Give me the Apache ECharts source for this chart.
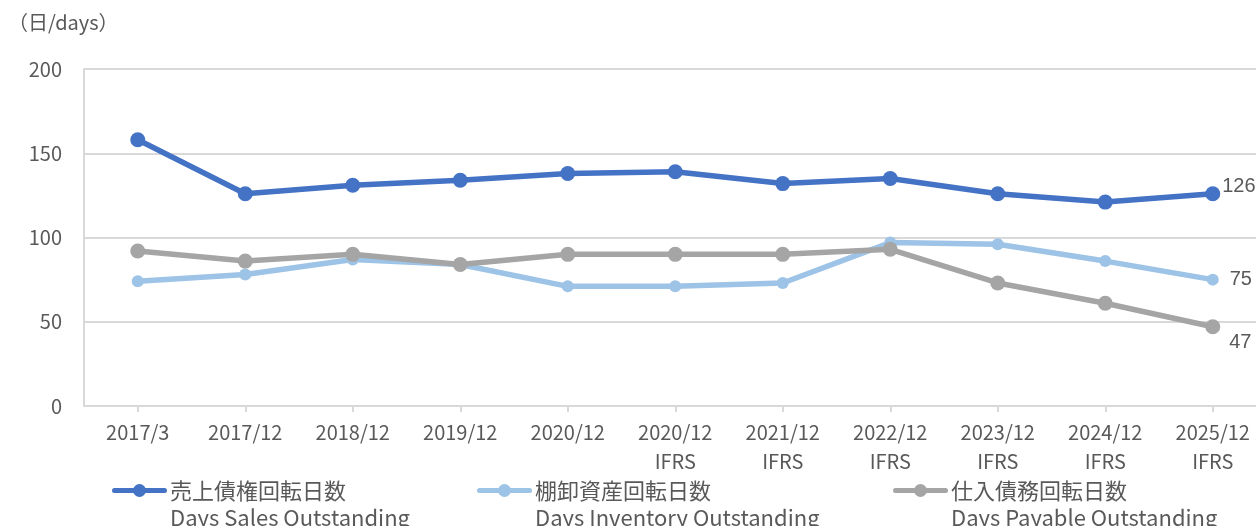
<!DOCTYPE html>
<html>
<head>
<meta charset="utf-8">
<script src="https://cdn.jsdelivr.net/npm/echarts@6/dist/echarts.min.js"></script>
<style>
html,body{margin:0;padding:0;background:#fff;}
#main{width:1256px;height:526px;}
</style>
</head>
<body>
<div id="main"></div>
<script>
// 期間（x軸）
var periods = ["2017/3","2017/12","2018/12","2019/12","2020/12","2020/12\nIFRS","2021/12\nIFRS","2022/12\nIFRS","2023/12\nIFRS","2024/12\nIFRS","2025/12\nIFRS"];
// 売上債権回転日数
var dsoData = [158,126,131,134,138,139,132,135,126,121,126];
// 棚卸資産回転日数
var dioData = [74,78,87,84,71,71,73,97,96,86,75];
// 仕入債務回転日数
var dpoData = [92,86,90,84,90,90,90,93,73,61,47];
var yTicks = [0,50,100,150,200];

var nameDSO = "売上債権回転日数\nDays Sales Outstanding";
var nameDIO = "棚卸資産回転日数\nDays Inventory Outstanding";
var nameDPO = "仕入債務回転日数\nDays Payable Outstanding";

var FONT = "'Noto Sans CJK JP', 'Noto Sans', sans-serif";
var TXT = "#595959";
// 凡例アイコン（太線＋丸）
var LEGEND_ICON = "path://M2.5,4.5H21.6V9.5H2.5A2.5,2.5 0 0 1 2.5,4.5Z M33.4,4.5H52.5A2.5,2.5 0 0 1 52.5,9.5H33.4Z M21,7A6.5,6.5 0 1 1 34,7A6.5,6.5 0 1 1 21,7Z";

/**
 * 最後の点だけラベルを付ける
 */
function withLastLabel(arr, offset, dist){
	var list = [];
	for(var i=0;i<arr.length;i++){
		if(i == arr.length-1){
			list.push({
				value: arr[i],
				label: {
					show: true, position: "right", distance: dist, offset: offset,
					color: TXT, fontSize: 20, fontFamily: "'Liberation Sans', Arial, sans-serif"
				}
			});
		}else{
			list.push(arr[i]);
		}
	}
	return list;
}

function makeLegend(name, left){
	return {
		data: [{ name: name, icon: LEGEND_ICON }],
		left: left,
		top: 450,
		itemWidth: 55,
		itemHeight: 14,
		itemGap: 0,
		padding: 0,
		selectedMode: false,
		formatter: function(n){ return " \n" + n; },
		textStyle: { color: TXT, fontSize: 22, lineHeight: 27, fontFamily: FONT, padding: [0,0,0,-2] }
	};
}

var myChart = echarts.init(document.getElementById("main"));
var option = {
	animation: false,
	backgroundColor: "#fff",
	graphic: [{
		type: "text", left: 8, top: 12,
		style: { text: "（日/days）", fill: TXT, font: "20px " + FONT }
	}],
	legend: [
		makeLegend(nameDSO, 112),
		makeLegend(nameDIO, 477),
		makeLegend(nameDPO, 893)
	],
	grid: { left: 84, top: 69, width: 1182.5, height: 337, outerBoundsMode: "none", containLabel: false },
	xAxis: {
		type: "category",
		data: periods,
		boundaryGap: true,
		axisLine: { lineStyle: { color: "#d9d9d9", width: 2 } },
		axisTick: { show: true, alignWithLabel: true, length: 6, lineStyle: { color: "#d9d9d9", width: 2 } },
		axisLabel: { color: TXT, fontSize: 20, lineHeight: 29, margin: 12, fontFamily: FONT, interval: 0 }
	},
	yAxis: {
		type: "value",
		min: 0, max: 200, interval: 50,
		axisLine: { show: true, lineStyle: { color: "#d9d9d9", width: 2 } },
		axisTick: { show: false },
		splitLine: { lineStyle: { color: "#d9d9d9", width: 2 } },
		axisLabel: {
			color: TXT, fontSize: 20, margin: 22, fontFamily: FONT,
			formatter: function(v){ return yTicks.indexOf(v) >= 0 ? String(v) : ""; }
		}
	},
	series: [
		{
			name: nameDSO, type: "line", data: withLastLabel(dsoData, [0,-7], 2),
			symbol: "circle", symbolSize: 15,
			itemStyle: { color: "#4472C4" }, lineStyle: { color: "#4472C4", width: 5.5 }
		},
		{
			name: nameDIO, type: "line", data: withLastLabel(dioData, [0,0], 11),
			symbol: "circle", symbolSize: 12,
			itemStyle: { color: "#9DC3E6" }, lineStyle: { color: "#9DC3E6", width: 5.5 }
		},
		{
			name: nameDPO, type: "line", data: withLastLabel(dpoData, [0,16], 9),
			symbol: "circle", symbolSize: 15,
			itemStyle: { color: "#A5A5A5" }, lineStyle: { color: "#A5A5A5", width: 5.5 }
		}
	]
};
myChart.setOption(option);
</script>
</body>
</html>
